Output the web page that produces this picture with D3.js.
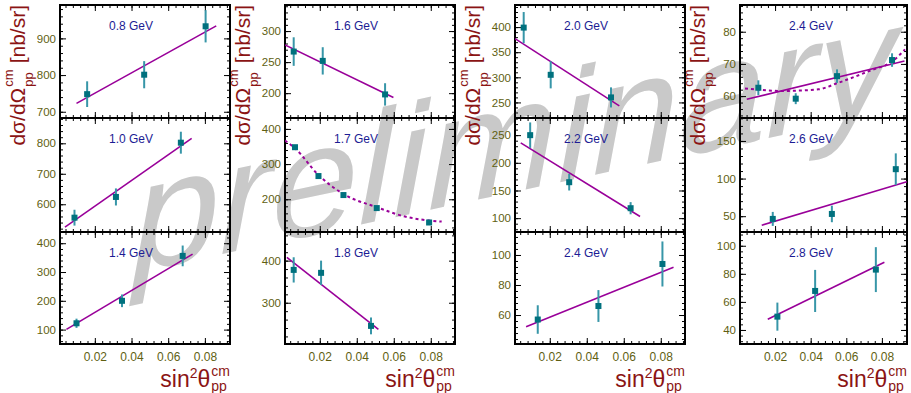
<!DOCTYPE html>
<html>
<head>
<meta charset="utf-8">
<script src="https://cdn.jsdelivr.net/npm/d3@7"></script>
<style>
  body { margin: 0; background: #fff; }
  svg { display: block; }
  text { font-family: "Liberation Sans", Arial, Helvetica, sans-serif; }
</style>
</head>
<body>
<svg id="chart"></svg>
<script>
// panels are listed column by column, top to bottom
var energies = ["0.8 GeV", "1.0 GeV", "1.4 GeV", "1.6 GeV", "1.7 GeV", "1.8 GeV",
                "2.0 GeV", "2.2 GeV", "2.4 GeV", "2.4 GeV", "2.6 GeV", "2.8 GeV"];

var xTicks = [0.02, 0.04, 0.06, 0.08];

var yRanges = [[683, 991], [509, 883], [50, 439],
               [160, 342], [107, 431], [202, 468],
               [219, 444], [75, 281], [40.7, 115.3],
               [53.2, 88.3], [29, 180.5], [30, 109.8]];

var yTicks = [[700, 800, 900], [600, 700, 800], [100, 200, 300, 400],
              [200, 250, 300], [200, 300, 400], [300, 400],
              [250, 300, 350, 400], [100, 150, 200, 250], [60, 80, 100],
              [60, 70, 80], [50, 100, 150], [40, 60, 80, 100]];

var pointX = [[0.0158, 0.0469, 0.0804], [0.0089, 0.0315, 0.0669], [0.0100, 0.0348, 0.0679],
              [0.0059, 0.0216, 0.0553], [0.0066, 0.0193, 0.0328, 0.0508, 0.0791], [0.0059, 0.0207, 0.0477],
              [0.0059, 0.0205, 0.0531], [0.0094, 0.0305, 0.0637], [0.0135, 0.0463, 0.0809],
              [0.0106, 0.0316, 0.0548, 0.0857], [0.0187, 0.0519, 0.0878], [0.0213, 0.0425, 0.0766]];

var pointY = [[748, 801, 933], [556, 624, 802], [122, 200, 356],
              [267, 252, 198], [348, 266, 212, 175, 134], [378, 371, 245],
              [399, 305, 260], [250, 165, 118], [57, 66, 94],
              [62.6, 59.2, 66.2, 71.2], [46.4, 53, 112.5], [49.5, 67.8, 83]];

var pointErr = [[35, 37, 44], [26, 28, 36], [16, 22, 36],
                [23, 22, 18], [0, 0, 0, 0, 0], [30, 29, 20],
                [31, 27, 20], [23, 15, 11], [9.5, 10.6, 15],
                [2.3, 1.7, 2.1, 2.1], [9.3, 11, 21], [10, 15, 16]];

// straight fits: [x start, x end] and [y start, y end]
var fitX = [[0.010, 0.0862], [0.0037, 0.0728], [0.0045, 0.0733],
            [0.0012, 0.0598], null, [0.0022, 0.0517],
            [0.0012, 0.0576], [0.0043, 0.0688], [0.0072, 0.0869],
            [0.0041, 0.0927], [0.0125, 0.094], [0.0159, 0.0814]];
var fitY = [[723, 934], [525, 816], [101, 362],
            [277.6, 193], null, [408, 237],
            [377, 243], [236, 103], [52.2, 91.8],
            [59.0, 70.9], [38, 95.8], [47.6, 88.2]];

// dashed curves (1.7 GeV and upper 2.4 GeV panels)
var curve17X = [0.0012, 0.0066, 0.0193, 0.0328, 0.0508, 0.0661, 0.0791, 0.0859];
var curve17Y = [366.8, 345, 269, 215, 177.5, 151, 139.5, 136.6];
var curve24X = [0.0031, 0.0238, 0.0443, 0.0548, 0.0743, 0.0856, 0.0930];
var curve24Y = [62.4, 61.6, 62.1, 64.0, 68.1, 70.7, 74.5];

var curveX = {4: curve17X, 9: curve24X};
var curveY = {4: curve17Y, 9: curve24Y};

(function() {
  var W = 911, H = 393;
  var colLeft = [60, 285, 515, 740];
  var colWidth = [170, 170, 170, 167];
  var rowTop = [5, 118, 232];
  var rowBottom = [118, 232, 344];
  var xRanges = [[0.001, 0.0937], [0.0012, 0.0931], [0.0012, 0.0931], [0.0003, 0.0941]];

  var tickColor = "#5f5f12";
  var titleColor = "#8b1414";
  var labelColor = "#1c1c94";
  var fitColor = "#990099";
  var markColor = "#00717e";
  var errColor = "#3796a8";

  var svg = d3.select("#chart")
      .attr("width", W)
      .attr("height", H);

  // watermark behind everything
  svg.append("text")
      .attr("transform", "translate(133,273) skewY(-12)")
      .attr("font-size", 156)
      .attr("font-style", "italic")
      .attr("fill", "#c9c9c9")
      .text("preliminary");

  var defs = svg.append("defs");

  for (var i = 0; i < 12; i++) {
    var col = Math.floor(i / 3), row = i % 3;
    var px = colLeft[col], py = rowTop[row];
    var w = colWidth[col], h = rowBottom[row] - py;

    var x = d3.scaleLinear().domain(xRanges[col]).range([0, w]);
    var y = d3.scaleLinear().domain(yRanges[i]).range([h, 0]);

    var g = svg.append("g")
        .attr("transform", "translate(" + px + "," + py + ")");

    defs.append("clipPath").attr("id", "clip" + i)
      .append("rect").attr("width", w).attr("height", h);

    // minor ticks
    var yStep = yTicks[i][1] - yTicks[i][0];
    var yMinor = d3.range(Math.ceil(yRanges[i][0] / (yStep / 5)) * (yStep / 5), yRanges[i][1], yStep / 5);
    var xMinor = d3.range(0.004, xRanges[col][1], 0.004);

    g.append("g").call(d3.axisLeft(y).tickValues(yMinor).tickSize(-3).tickFormat(""));
    g.append("g").attr("transform", "translate(" + w + ",0)")
        .call(d3.axisRight(y).tickValues(yMinor).tickSize(-3).tickFormat(""));
    g.append("g").call(d3.axisTop(x).tickValues(xMinor).tickSize(-3).tickFormat(""));
    g.append("g").attr("transform", "translate(0," + h + ")")
        .call(d3.axisBottom(x).tickValues(xMinor).tickSize(-3).tickFormat(""));

    // major ticks
    g.append("g").attr("class", "ylab")
        .call(d3.axisLeft(y).tickValues(yTicks[i]).tickSize(-6).tickPadding(4).tickFormat(d3.format("d")));
    g.append("g").attr("transform", "translate(" + w + ",0)")
        .call(d3.axisRight(y).tickValues(yTicks[i]).tickSize(-6).tickFormat(""));
    g.append("g").call(d3.axisTop(x).tickValues(xTicks).tickSize(-6).tickFormat(""));
    g.append("g").attr("class", "xlab").attr("transform", "translate(0," + h + ")")
        .call(d3.axisBottom(x).tickValues(xTicks).tickSize(-6).tickPadding(8)
          .tickFormat(row === 2 ? d3.format(".2f") : ""));

    g.selectAll(".domain").remove();
    g.selectAll(".tick line").attr("stroke", "#000").attr("stroke-width", 1);
    g.selectAll(".tick text").attr("fill", tickColor)
        .attr("font-family", "'Liberation Sans', Arial, sans-serif");
    g.selectAll(".ylab .tick text").attr("font-size", 11.5);
    g.selectAll(".xlab .tick text").attr("font-size", 12);

    // frame
    g.append("rect")
        .attr("width", w).attr("height", h)
        .attr("fill", "none").attr("stroke", "#000").attr("stroke-width", 2);

    var plot = g.append("g").attr("clip-path", "url(#clip" + i + ")");

    if (fitX[i]) {
      var fitPts = fitX[i].map(function(d, k) { return [d, fitY[i][k]]; });
      plot.append("path")
          .datum(fitPts)
          .attr("fill", "none")
          .attr("stroke", fitColor)
          .attr("stroke-width", 1.6)
          .attr("d", d3.line().x(function(d) { return x(d[0]); }).y(function(d) { return y(d[1]); }));
    }

    if (curveX[i]) {
      var cx = curveX[i], cy = curveY[i];
      var cPts = cx.map(function(d, k) { return [d, cy[k]]; });
      plot.append("path")
          .datum(cPts)
          .attr("fill", "none")
          .attr("stroke", fitColor)
          .attr("stroke-width", 2)
          .attr("stroke-dasharray", "3,3")
          .attr("d", d3.line().curve(d3.curveMonotoneX)
            .x(function(d) { return x(d[0]); }).y(function(d) { return y(d[1]); }));
    }

    var pts = pointX[i].map(function(d, k) {
      return {x: d, y: pointY[i][k], e: pointErr[i][k]};
    });

    g.selectAll(".err")
      .data(pts.filter(function(d) { return d.e > 0; }))
      .enter().append("line")
        .attr("x1", function(d) { return x(d.x); })
        .attr("x2", function(d) { return x(d.x); })
        .attr("y1", function(d) { return Math.max(0, y(d.y + d.e)); })
        .attr("y2", function(d) { return Math.min(h, y(d.y - d.e)); })
        .attr("stroke", errColor)
        .attr("stroke-width", 2);

    g.selectAll(".mark")
      .data(pts)
      .enter().append("rect")
        .attr("x", function(d) { return x(d.x) - 3; })
        .attr("y", function(d) { return y(d.y) - 3; })
        .attr("width", 6)
        .attr("height", 6)
        .attr("fill", markColor);

    g.append("text")
        .attr("x", 71)
        .attr("y", 25)
        .attr("text-anchor", "middle")
        .attr("font-size", 12)
        .attr("fill", labelColor)
        .text(energies[i]);
  }

  // y titles on top row
  colLeft.forEach(function(left) {
    var t = svg.append("g");
    var main = t.append("text").attr("font-size", 21).attr("fill", titleColor).text("d\u03c3/d\u03a9");
    var w1 = main.node().getComputedTextLength();
    var sup = t.append("text").attr("x", w1 + 1).attr("y", -12).attr("font-size", 13)
        .attr("fill", titleColor).text("cm");
    var sub = t.append("text").attr("x", w1 + 1).attr("y", 8).attr("font-size", 13)
        .attr("fill", titleColor).text("pp");
    var w2 = Math.max(sup.node().getComputedTextLength(), sub.node().getComputedTextLength());
    var rest = t.append("text").attr("x", w1 + w2 + 7).attr("font-size", 21)
        .attr("fill", titleColor).text("[nb/sr]");
    var total = w1 + w2 + 7 + rest.node().getComputedTextLength();
    t.attr("transform", "translate(" + (left - 35) + "," + (5 + total) + ") rotate(-90)");
  });

  // x titles under bottom row
  colLeft.forEach(function(left, c) {
    var t = svg.append("g");
    var a = t.append("text").attr("font-size", 23).attr("fill", titleColor).text("sin");
    var wa = a.node().getComputedTextLength();
    var s2 = t.append("text").attr("x", wa).attr("y", -9).attr("font-size", 14)
        .attr("fill", titleColor).text("2");
    var ws = s2.node().getComputedTextLength();
    var th = t.append("text").attr("x", wa + ws).attr("font-size", 23)
        .attr("fill", titleColor).text("\u03b8");
    var wt = th.node().getComputedTextLength();
    var sup = t.append("text").attr("x", wa + ws + wt + 1).attr("y", -11).attr("font-size", 14)
        .attr("fill", titleColor).text("cm");
    var sub = t.append("text").attr("x", wa + ws + wt + 1).attr("y", 4).attr("font-size", 14)
        .attr("fill", titleColor).text("pp");
    var total = wa + ws + wt + 1 + Math.max(sup.node().getComputedTextLength(), sub.node().getComputedTextLength());
    t.attr("transform", "translate(" + (left + colWidth[c] - total) + ",387)");
  });
})();
</script>
</body>
</html>
